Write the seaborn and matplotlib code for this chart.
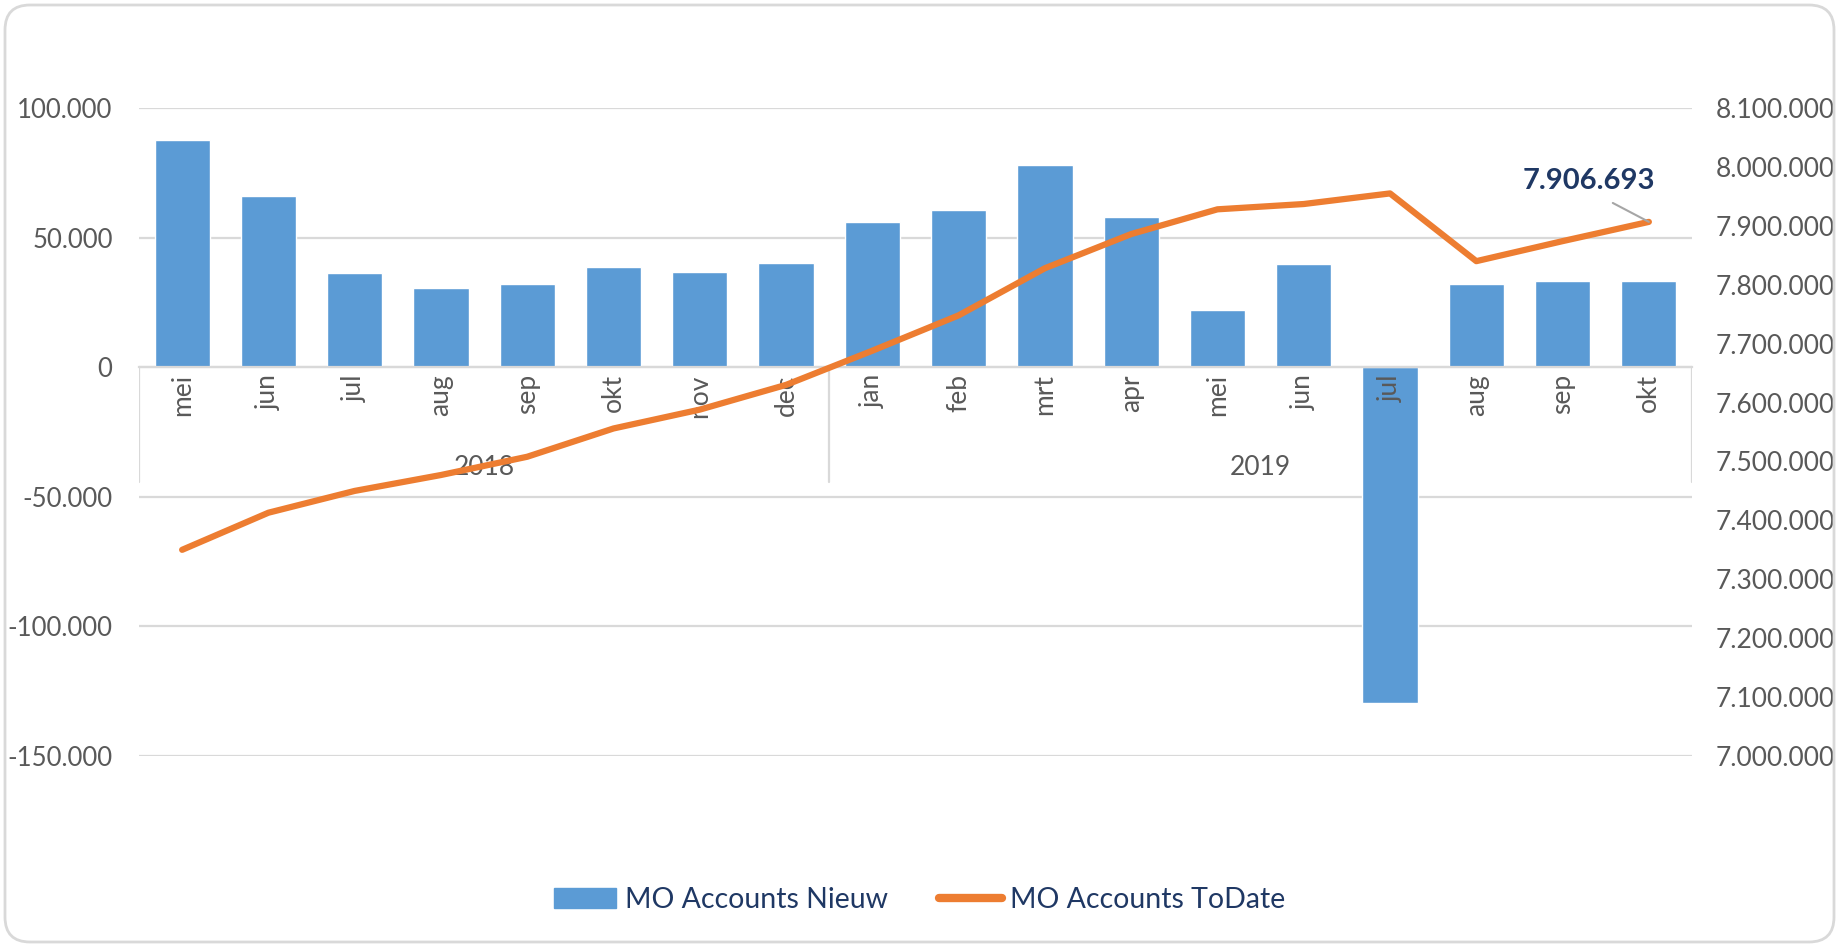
import numpy as np
import pandas as pd
import matplotlib.pyplot as plt
import matplotlib.transforms as mtransforms
from matplotlib.lines import Line2D
from matplotlib.patches import Patch, FancyBboxPatch
import seaborn as sns

# data
months = ['mei', 'jun', 'jul', 'aug', 'sep', 'okt', 'nov', 'dec',
          'jan', 'feb', 'mrt', 'apr', 'mei', 'jun', 'jul', 'aug', 'sep', 'okt']
years = ['2018'] * 8 + ['2019'] * 10
nieuw = [87800, 66000, 36300, 30400, 32000, 38500, 36700, 40300,
         56100, 60700, 78200, 57900, 22100, 39800, -129500, 32000, 33200, 33200]
todate = [7350000, 7413000, 7450000, 7477000, 7508000, 7556000, 7588000, 7630000,
          7688000, 7748000, 7828000, 7886000, 7928000, 7937000, 7955000, 7840000,
          7874000, 7906693]
left_ticks = [-150000, -100000, -50000, 0, 50000, 100000]
right_ticks = [7000000, 7100000, 7200000, 7300000, 7400000, 7500000,
               7600000, 7700000, 7800000, 7900000, 8000000, 8100000]

BLUE = '#5B9BD5'
ORANGE = '#ED7D31'
GRID = '#D9D9D9'
TXT = '#595959'
NAVY = '#1F3864'

df = pd.DataFrame({'month': months, 'year': years, 'nieuw': nieuw, 'todate': todate})
df['key'] = df['year'] + '-' + df['month']
df['pos'] = np.arange(len(df))

sns.set_style('white')
plt.rcParams['font.family'] = ['Lato', 'DejaVu Sans']

def fmt(v):
    return f"{v:,.0f}".replace(',', '.')

fig = plt.figure(figsize=(18.39, 9.47), dpi=100)
ax = fig.add_axes([139 / 1839, 1 - 756 / 947, (1692 - 139) / 1839, (756 - 108) / 947])

sns.barplot(data=df, x='key', y='nieuw', color=BLUE, saturation=1, width=0.64, ax=ax)

ax2 = ax.twinx()
sns.lineplot(data=df, x='pos', y='todate', color=ORANGE, lw=4.5, ax=ax2,
             solid_capstyle='round', solid_joinstyle='round')

ax.set_xlim(-0.5, 17.5)
ax.set_ylim(-150000, 100000)
ax.set_yticks(left_ticks)
ax.set_yticklabels([fmt(v) for v in left_ticks])
ax.set_xticks([])
ax.set_xlabel('')
ax.set_ylabel('')
ax.yaxis.grid(True, color=GRID, lw=1.6)
ax.set_axisbelow(True)
for s in ['top', 'left', 'right']:
    ax.spines[s].set_visible(False)
ax.spines['bottom'].set_position(('data', 0))
ax.spines['bottom'].set_color(GRID)
ax.spines['bottom'].set_linewidth(1.6)
ax.tick_params(axis='y', length=0, pad=19, labelsize=18.5, labelcolor=TXT)

# month labels under the zero line, drawn above the bars
for p, m in zip(df['pos'], df['month']):
    ax.annotate(m, xy=(p, 0), xytext=(0, -5), textcoords='offset points',
                rotation=90, ha='center', va='top', fontsize=19, color=TXT, zorder=5)

# multi-level category box
for xv in [-0.5, 7.5, 17.5]:
    ax.axvline(xv, ymin=0.423, ymax=0.6, color=GRID, lw=1.6, zorder=0)
trans = mtransforms.blended_transform_factory(ax.transData, ax.transAxes)
ax.text(3.5, 0.445, '2018', transform=trans, ha='center', va='center', fontsize=19, color=TXT)
ax.text(12.5, 0.445, '2019', transform=trans, ha='center', va='center', fontsize=19, color=TXT)

ax2.set_xlim(-0.5, 17.5)
ax2.set_ylim(7000000, 8100000)
ax2.set_yticks(right_ticks)
ax2.set_yticklabels([fmt(v) for v in right_ticks])
ax2.set_ylabel('')
ax2.set_xlabel('')
for s in ['top', 'left', 'right', 'bottom']:
    ax2.spines[s].set_visible(False)
ax2.tick_params(axis='y', length=0, pad=17, labelsize=19, labelcolor=TXT)

last = df.iloc[-1]
ax2.annotate(fmt(last['todate']), xy=(last['pos'], last['todate']),
             xytext=(-60, 41), textcoords='offset pixels',
             ha='center', va='center', fontsize=21, fontweight='bold', color=NAVY,
             arrowprops=dict(arrowstyle='-', color='#A6A6A6', lw=1.5,
                             relpos=(0.55, 0), shrinkA=9, shrinkB=0))

handles = [Patch(facecolor=BLUE, edgecolor=BLUE),
           Line2D([0], [0], color=ORANGE, lw=6, solid_capstyle='round')]
fig.legend(handles, ['MO Accounts Nieuw', 'MO Accounts ToDate'], loc='center',
           bbox_to_anchor=(0.5, 1 - 900 / 947), ncol=2, frameon=False, fontsize=20.5,
           labelcolor=NAVY, handlelength=2.2, handletextpad=0.3, columnspacing=1.8)

border = FancyBboxPatch((5, 5), 1829, 937, boxstyle='round,pad=0,rounding_size=25',
                        transform=mtransforms.IdentityTransform(),
                        fc='none', ec=GRID, lw=2)
fig.add_artist(border)

fig.savefig('out.png', dpi=100)
